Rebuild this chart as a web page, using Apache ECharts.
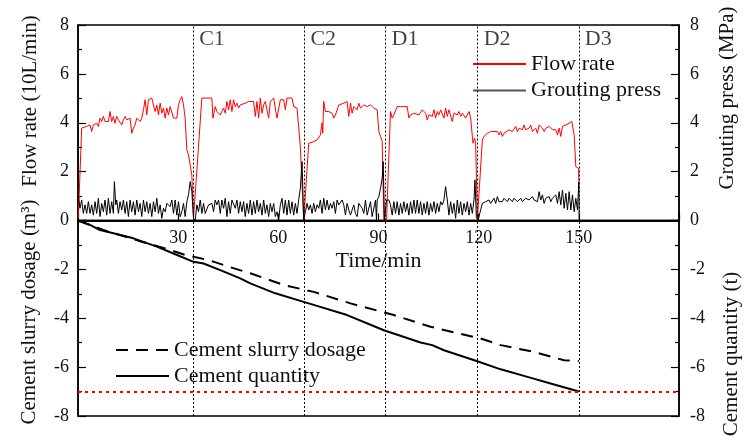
<!DOCTYPE html>
<html>
<head>
<meta charset="utf-8">
<script src="https://cdn.jsdelivr.net/npm/echarts@6/dist/echarts.min.js"></script>
<style>html,body{margin:0;padding:0;background:#fff;}#c{width:744px;height:436px;}</style>
</head>
<body>
<div id="c"></div>
<script>
// ---- data (time in min) ----
const xTickLabels = [30, 60, 90, 120, 150];
const markerNames = ['C1', 'C2', 'D1', 'D2', 'D3'];
const markerTimes = [34.5, 67.8, 92.1, 119.7, 150];
const limitLine = -7;

const flowRate = [
[0.1,0.1],[1.1,3.78],[1.6,3.85],[2.6,3.85],[3.6,3.91],[4.1,3.64],[4.6,3.91],[5.6,3.98],[6.1,3.85],[6.6,4.19],[7.1,4.05],[7.6,4.26],[8.1,4.05],[8.6,4.12],[9.1,4.05],[9.6,4.46],[10.1,4.05],[10.6,4.26],[11.1,3.98],[11.6,4.26],[12.1,4.12],[12.6,4.19],[13.1,3.91],[13.6,4.12],[14.1,4.26],[14.6,4.12],[15.1,4.05],[15.6,4.19],[16.1,3.57],[16.6,3.78],[17.1,3.91],[17.6,4.19],[18.1,4.26],[18.6,4.05],[19.1,4.19],[19.6,4.53],[20.1,4.94],[20.6,4.32],[21.1,4.94],[21.6,5.01],[22.1,5.01],[22.6,5.01],[23.1,4.46],[23.6,4.73],[24.1,4.32],[24.6,4.80],[25.1,4.39],[25.6,4.60],[26.1,4.19],[26.6,4.60],[27.1,4.32],[27.6,4.66],[28.1,4.73],[28.6,4.19],[29.6,4.19],[30.1,4.73],[30.6,4.94],[31.1,5.07],[31.6,4.73],[32.1,4.19],[32.6,2.89],[33.1,2.68],[33.6,2.27],[34.1,1.86],[34.6,0.09],
[35.1,0.02],[37.1,5.01],[40.1,5.01],[40.4,4.19],[41.1,4.66],[41.6,4.46],[42.1,4.53],[42.6,4.32],[43.1,4.46],[43.6,4.60],[44.1,4.39],[44.6,4.87],[45.1,4.53],[45.6,4.94],[46.1,4.46],[46.6,4.94],[47.1,4.66],[47.6,4.80],[48.1,4.60],[48.6,4.73],[49.1,4.66],[50.1,4.80],[51.1,4.87],[52.6,4.87],[53.1,4.26],[53.6,4.87],[54.1,4.19],[54.6,5.01],[55.1,4.39],[55.6,4.73],[56.1,4.87],[57.1,4.19],[57.6,4.87],[58.6,5.01],[59.6,4.19],[60.6,4.94],[61.6,4.94],[62.1,4.53],[62.6,5.01],[64.1,5.01],[64.6,4.66],[65.6,4.60],[66.1,3.80],[66.6,3.00],[67.6,0.0],
[68.1,0.0],[69.1,3.16],[70.1,3.20],[71.6,3.30],[72.6,3.50],[73.1,4.00],[73.3,3.57],[73.6,4.87],[74.1,4.46],[75.1,4.46],[76.1,4.39],[76.6,4.19],[77.1,4.32],[77.6,4.26],[78.1,4.73],[78.6,4.73],[79.6,4.80],[80.1,4.73],[80.6,4.87],[81.1,4.26],[81.6,4.80],[82.1,4.39],[82.6,4.66],[83.1,4.73],[83.6,4.53],[84.1,4.80],[84.6,4.60],[85.1,4.66],[85.6,4.73],[86.6,4.66],[87.1,4.60],[87.6,4.73],[88.1,4.80],[88.6,4.60],[89.1,4.66],[89.6,4.53],[90.1,3.64],[90.6,3.44],[91.1,3.23],[91.6,0.0],
[92.4,0.0],[93.6,4.46],[94.1,4.19],[94.6,4.32],[95.6,4.66],[96.6,4.66],[97.6,4.66],[98.6,4.66],[99.1,4.19],[99.6,4.32],[100.6,4.39],[101.1,4.46],[102.1,4.32],[103.1,4.53],[103.6,4.60],[104.1,4.39],[104.6,4.12],[105.1,4.32],[105.6,4.26],[106.1,4.26],[106.6,4.53],[107.1,4.19],[107.6,4.46],[108.1,4.32],[108.6,4.53],[109.1,4.46],[109.6,4.19],[110.1,4.60],[110.6,4.26],[111.1,4.53],[111.6,4.46],[112.1,4.05],[112.6,4.39],[113.1,4.46],[113.6,4.32],[114.1,4.46],[114.6,4.26],[115.1,4.39],[115.6,4.39],[116.1,4.19],[116.6,4.12],[117.1,4.46],[117.6,4.19],[117.9,4.26],[118.3,3.16],[118.8,3.37],[119.1,3.16],[119.6,0.0],
[120.1,0.0],[121.1,3.30],[121.6,3.44],[122.1,3.50],[122.6,3.57],[123.1,3.50],[123.6,3.64],[124.1,3.57],[124.6,3.64],[125.1,3.71],[125.6,3.64],[126.1,3.50],[126.6,3.64],[127.1,3.44],[127.6,3.57],[128.1,3.64],[129.1,3.71],[130.1,3.64],[131.1,3.85],[131.6,3.64],[132.1,3.78],[133.1,3.71],[133.6,3.91],[134.1,3.71],[135.1,3.78],[135.6,3.91],[136.1,3.64],[137.1,3.78],[137.6,3.57],[138.1,3.91],[139.1,3.78],[139.6,3.64],[140.1,3.78],[141.1,3.85],[142.1,3.71],[143.1,3.71],[143.6,3.50],[144.1,3.78],[144.6,3.44],[145.1,3.85],[146.1,3.91],[147.1,3.98],[147.9,4.05],[148.6,3.50],[149.1,2.20],[149.9,2.14],[150.0,1.60]
];

const groutPress = [
[0.1,0.98],[0.6,0.50],[1.1,0.84],[1.6,0.29],[2.1,0.64],[2.6,0.29],[3.1,0.77],[3.6,0.29],[4.1,0.64],[4.6,0.22],[5.1,0.77],[5.6,0.29],[6.1,0.91],[6.6,0.16],[7.1,0.70],[7.6,0.36],[8.1,0.84],[8.6,0.22],[9.1,0.91],[9.6,0.29],[10.1,0.77],[10.6,0.29],[10.9,1.59],[11.3,0.64],[11.6,0.84],[12.1,0.29],[12.6,0.77],[13.1,0.43],[13.6,0.84],[14.1,0.29],[14.6,0.77],[15.1,0.16],[15.6,0.84],[16.1,0.36],[16.6,0.77],[17.1,0.22],[17.6,0.84],[18.1,0.36],[18.6,0.70],[19.1,0.16],[19.6,0.84],[20.1,0.36],[20.6,0.77],[21.1,0.29],[21.6,0.70],[22.1,0.16],[22.6,0.77],[23.1,0.36],[23.6,0.91],[24.1,0.29],[24.6,0.64],[25.1,0.09],[25.6,0.50],[26.1,0.36],[26.6,0.70],[27.1,0.77],[27.6,0.57],[28.1,0.84],[28.6,0.29],[29.1,0.84],[29.6,0.22],[30.1,0.77],[30.6,0.16],[31.1,0.36],[31.6,0.70],[32.1,0.16],[32.6,0.77],[33.1,1.05],[33.6,1.59],[34.1,1.18],[34.6,0.09],
[35.1,0.0],[35.6,0.64],[36.1,0.36],[36.6,0.84],[37.1,0.29],[37.6,0.70],[38.1,0.29],[39.1,0.64],[40.1,0.70],[40.6,0.36],[41.1,0.84],[41.6,0.64],[42.1,0.84],[42.6,0.29],[43.1,0.84],[43.6,0.50],[44.1,0.91],[44.6,0.16],[45.1,0.77],[45.6,0.29],[46.1,0.84],[46.6,0.91],[47.1,0.50],[47.6,0.84],[48.1,0.29],[48.6,0.77],[49.1,0.36],[49.6,0.77],[50.1,0.16],[50.6,0.70],[51.1,0.29],[51.6,0.84],[52.1,0.22],[52.6,0.77],[53.1,0.29],[53.6,0.84],[54.1,0.36],[54.6,0.70],[55.1,0.22],[55.6,0.84],[56.1,0.29],[56.6,0.64],[57.1,0.16],[57.6,0.70],[58.1,0.36],[58.6,0.70],[59.1,0.16],[59.6,0.36],[60.1,0.02],[60.6,0.64],[61.1,0.91],[61.6,0.29],[62.1,0.84],[62.6,0.22],[63.1,0.84],[63.6,0.29],[64.1,0.77],[64.6,0.22],[65.1,0.70],[65.6,0.29],[66.1,0.84],[66.6,1.32],[67.1,2.41],[67.6,0.0],
[68.1,0.36],[68.6,0.70],[69.1,0.43],[69.6,0.64],[70.1,0.29],[70.6,0.70],[71.1,0.36],[71.6,0.64],[72.1,0.50],[72.6,0.84],[73.1,0.29],[73.6,0.91],[74.1,0.43],[74.6,0.84],[75.1,0.43],[75.6,0.70],[76.1,0.50],[76.6,0.77],[77.1,0.29],[77.6,0.84],[78.1,0.64],[78.6,0.70],[79.1,0.84],[79.6,0.64],[80.1,0.22],[80.6,0.70],[81.1,0.43],[81.6,0.22],[82.1,0.16],[82.6,0.64],[83.1,0.29],[83.6,0.16],[84.1,0.70],[84.6,0.77],[85.1,0.50],[85.6,0.29],[86.1,0.84],[86.6,0.22],[87.1,0.16],[87.6,0.77],[88.1,0.16],[88.6,0.16],[89.1,0.84],[89.4,0.02],[89.6,0.84],[90.1,0.98],[90.6,1.32],[91.1,1.73],[91.4,2.41],[91.8,0.0],
[92.4,0.84],[93.1,0.84],[93.6,0.64],[94.1,0.22],[94.6,0.77],[95.1,0.29],[95.6,0.77],[96.1,0.22],[96.6,0.70],[97.1,0.29],[97.6,0.77],[98.1,0.36],[98.6,0.70],[99.1,0.22],[99.6,0.77],[100.1,0.29],[100.6,0.84],[101.1,0.29],[101.6,0.84],[102.1,0.29],[102.6,0.77],[103.1,0.22],[103.6,0.70],[104.1,0.29],[104.6,0.77],[105.1,0.22],[105.6,0.70],[106.1,0.36],[106.6,0.77],[107.1,0.29],[107.6,0.70],[108.1,0.36],[108.6,0.77],[109.1,0.64],[109.6,0.84],[110.1,1.39],[110.6,0.84],[111.1,0.22],[111.6,0.77],[112.1,0.29],[112.6,0.70],[113.1,0.09],[113.6,0.84],[114.1,0.29],[114.6,0.77],[115.1,0.22],[115.6,0.70],[116.1,0.36],[116.6,0.77],[117.1,0.22],[117.6,0.70],[118.1,0.29],[118.6,0.84],[118.9,1.66],[119.3,0.16],[119.8,0.0],
[120.1,0.0],[120.6,0.43],[121.1,0.70],[121.6,0.64],[122.1,0.77],[122.6,0.70],[123.1,0.84],[123.6,0.70],[124.1,0.77],[124.6,0.91],[125.1,0.70],[125.6,0.98],[126.1,0.77],[126.6,0.84],[127.1,0.77],[127.6,0.91],[128.1,0.84],[128.6,0.77],[129.1,0.91],[129.6,0.84],[130.1,0.77],[130.6,0.91],[131.1,0.84],[131.6,0.77],[132.1,0.84],[132.6,0.91],[133.1,0.77],[133.6,0.84],[134.1,0.91],[134.6,0.84],[135.1,0.84],[135.6,0.77],[136.1,0.98],[136.6,0.84],[137.1,0.91],[137.6,0.77],[138.1,1.18],[138.6,0.84],[139.1,1.05],[139.6,0.70],[140.1,0.91],[140.6,0.84],[141.1,0.98],[141.6,0.77],[142.1,0.91],[142.6,0.84],[143.1,1.05],[143.6,0.70],[144.1,1.18],[144.6,0.64],[145.1,1.25],[145.6,0.50],[146.1,1.11],[146.6,0.43],[147.1,1.18],[147.6,0.43],[148.1,1.05],[148.6,0.36],[149.1,0.91],[149.6,0.43],[150.0,1.59],[150.1,0.0]
];

const slurryDosage = [[0,0],[7.6,-0.39],[14.1,-0.66],[19.1,-0.87],[26.1,-1.14],[32.1,-1.41],[39.1,-1.62],[45.1,-1.89],[51.6,-2.16],[61.6,-2.64],[70.6,-2.92],[81.6,-3.39],[94.6,-3.87],[105.6,-4.35],[120.6,-4.83],[126.6,-5.10],[136.6,-5.38],[145.6,-5.72],[150,-5.75]];
const cementQuantity = [[0,0],[3.6,-0.18],[6.6,-0.39],[10.6,-0.52],[16.6,-0.73],[23.6,-1.07],[28.6,-1.35],[34.6,-1.69],[37.6,-1.76],[42.6,-2.03],[48.6,-2.37],[51.6,-2.57],[59.1,-2.98],[67.6,-3.33],[80.6,-3.87],[91.6,-4.49],[102.6,-4.99],[106.1,-5.10],[109.6,-5.31],[119.6,-5.76],[126.6,-6.09],[134.6,-6.40],[142.6,-6.71],[150,-7.0]];

// ---- chart ----
const FONT = '"Liberation Serif", "Times New Roman", serif';
const chart = echarts.init(document.getElementById('c'), null, {renderer: 'canvas'});

function yAx(grid, pos, min, max, hideMax) {
  return {
    type: 'value', gridIndex: grid, position: pos, min: min, max: max, interval: 2,
    axisLine: {show: true, lineStyle: {color: '#000', width: 1.5}},
    axisTick: {show: true, inside: true, length: 8, lineStyle: {color: '#000', width: 1.2}},
    minorTick: {show: true, splitNumber: 2, length: 4, lineStyle: {color: '#000', width: 1.2}},
    axisLabel: {fontFamily: FONT, fontSize: 18, color: '#111', margin: pos === 'left' ? 9 : 11, showMaxLabel: !hideMax},
    splitLine: {show: false}
  };
}
const vLines = markerTimes.map(t => ({xAxis: t}));
const legendText = {fontFamily: FONT, fontSize: 22, lineHeight: 22, color: '#111'};
const hiddenSymbol = {opacity: 0, color: 'rgba(0,0,0,0)', borderWidth: 0};

chart.setOption({
  animation: false,
  backgroundColor: '#fff',
  grid: [
    {left: 78, right: 65, top: 25, height: 195.5, show: true, borderColor: '#000', borderWidth: 1.5},
    {left: 78, right: 65, top: 220.5, height: 195.5, show: true, borderColor: '#000', borderWidth: 1.5}
  ],
  xAxis: [
    {type: 'value', gridIndex: 0, min: 0, max: 180, interval: 30, position: 'bottom',
     axisLine: {show: true, lineStyle: {color: '#000', width: 2}},
     axisTick: {show: true, inside: true, length: 7, lineStyle: {color: '#000', width: 1.2}},
     axisLabel: {fontFamily: FONT, fontSize: 18, color: '#111', margin: 9,
       formatter: v => xTickLabels.indexOf(v) >= 0 ? String(v) : ''},
     splitLine: {show: false},
     name: 'Time/min', nameLocation: 'middle', nameGap: 30,
     nameTextStyle: {fontFamily: FONT, fontSize: 22, color: '#111'}},
    {type: 'value', gridIndex: 1, min: 0, max: 180, interval: 30, show: false}
  ],
  yAxis: [
    yAx(0, 'left', 0, 8, false),
    yAx(0, 'right', 0, 8, false),
    yAx(1, 'left', -8, 0, true),
    yAx(1, 'right', -8, 0, true)
  ],
  legend: [
    {data: ['Flow rate', {name: 'Grouting press', lineStyle: {color: '#555'}}],
     orient: 'vertical', left: 467, top: 48, itemWidth: 53, itemHeight: 14, itemGap: 4.5,
     itemStyle: hiddenSymbol, selectedMode: false, textStyle: legendText},
    {data: ['Cement slurry dosage', 'Cement quantity'],
     orient: 'vertical', left: 110, top: 334, itemWidth: 53, itemHeight: 14, itemGap: 4,
     itemStyle: hiddenSymbol, selectedMode: false, textStyle: legendText}
  ],
  graphic: [
    {type: 'text', x: 30, y: 101, rotation: Math.PI / 2,
     style: {text: 'Flow rate (10L/min)', font: '21px ' + FONT, fill: '#111', textAlign: 'center', textVerticalAlign: 'middle'}},
    {type: 'text', x: 29, y: 312, rotation: Math.PI / 2,
     style: {text: 'Cement slurry dosage (m³)', font: '21px ' + FONT, fill: '#111', textAlign: 'center', textVerticalAlign: 'middle'}},
    {type: 'text', x: 727, y: 98, rotation: Math.PI / 2,
     style: {text: 'Grouting press (MPa)', font: '21px ' + FONT, fill: '#111', textAlign: 'center', textVerticalAlign: 'middle'}},
    {type: 'text', x: 731, y: 354, rotation: Math.PI / 2,
     style: {text: 'Cement quantity (t)', font: '21px ' + FONT, fill: '#111', textAlign: 'center', textVerticalAlign: 'middle'}}
  ],
  series: [
    {name: 'Flow rate', type: 'line', xAxisIndex: 0, yAxisIndex: 0, data: flowRate,
     showSymbol: false, symbol: 'none', lineStyle: {color: '#ff0000', width: 1}, itemStyle: {color: '#ff0000'},
     markLine: {silent: true, symbol: 'none', label: {show: false},
       lineStyle: {color: '#000', type: [2, 2], width: 1}, data: vLines}},
    {name: 'Grouting press', type: 'line', xAxisIndex: 0, yAxisIndex: 1, data: groutPress,
     showSymbol: false, symbol: 'none', lineStyle: {color: '#000', width: 1}, itemStyle: {color: '#000'}},
    {name: 'markers', type: 'scatter', xAxisIndex: 0, yAxisIndex: 0, symbolSize: 0, silent: true,
     data: markerTimes.map((t, i) => ({name: markerNames[i], value: [t, 7.4]})),
     label: {show: true, position: 'right', distance: 6, formatter: p => p.name,
       fontFamily: FONT, fontSize: 22, color: '#111'}},
    {name: 'Cement slurry dosage', type: 'line', xAxisIndex: 1, yAxisIndex: 2, data: slurryDosage,
     showSymbol: false, symbol: 'none', lineStyle: {color: '#000', width: 2, type: [12, 8]}, itemStyle: {color: '#000'},
     markLine: {silent: true, symbol: 'none', label: {show: false},
       lineStyle: {color: '#000', type: [2, 2], width: 1}, data: vLines}},
    {name: 'Cement quantity', type: 'line', xAxisIndex: 1, yAxisIndex: 3, data: cementQuantity,
     showSymbol: false, symbol: 'none', lineStyle: {color: '#000', width: 2}, itemStyle: {color: '#000'},
     markLine: {silent: true, symbol: 'none', label: {show: false},
       lineStyle: {color: '#ff0000', type: [3, 4], width: 2}, data: [{yAxis: limitLine}]}}
  ]
});
</script>
</body>
</html>
